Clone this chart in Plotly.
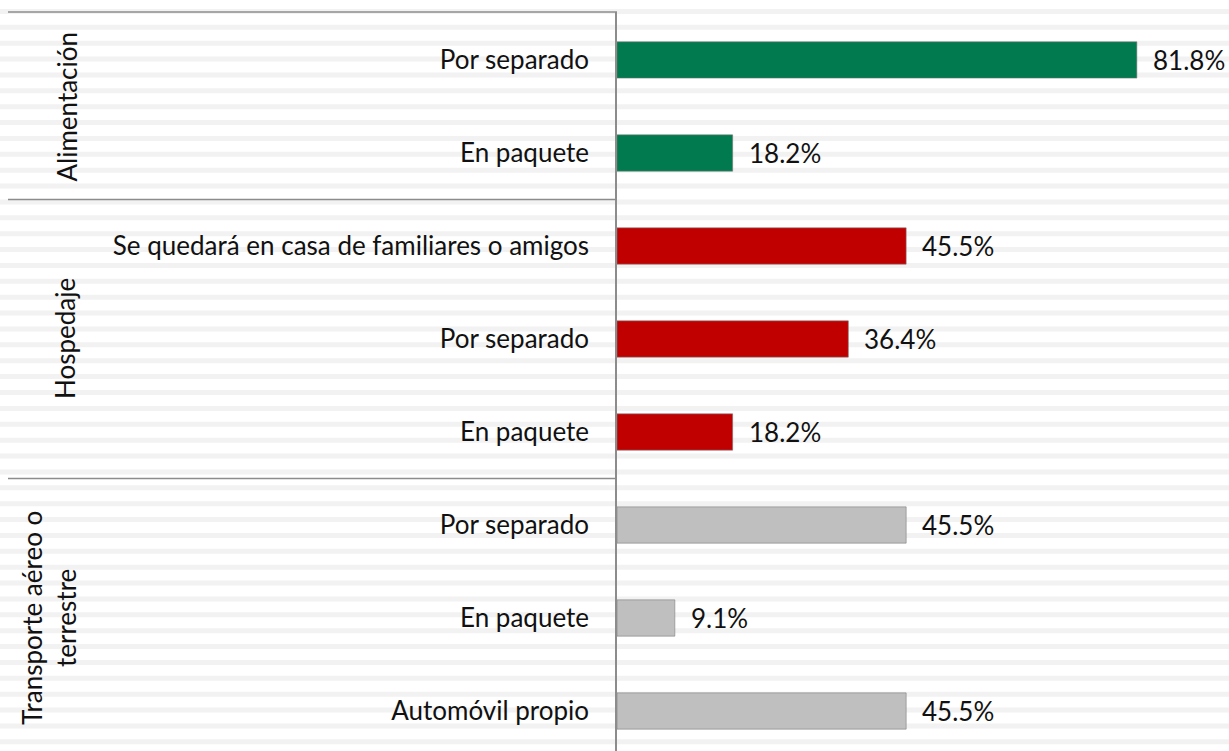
import plotly.graph_objects as go

# ---- data ----
groups = ["Alimentación", "Hospedaje", "Transporte aéreo o<br>terrestre"]
group_sizes = [2, 3, 3]
categories = ["Por separado", "En paquete",
              "Se quedará en casa de familiares o amigos", "Por separado", "En paquete",
              "Por separado", "En paquete", "Automóvil propio"]
values = [81.8, 18.2, 45.5, 36.4, 18.2, 45.5, 9.1, 45.5]
group_colors = ["#007A4E", "#C00000", "#BFBFBF"]
value_labels = [f"{v:.1f}%" for v in values]

W, H = 1229, 751
ML, MT = 617, 12
PW, PH = W - ML, H - MT

colors = []
for g, n in enumerate(group_sizes):
    colors += [group_colors[g]] * n
ypos = list(range(len(categories)))

FONT = "Lato"
FS = 26
TXT = "#111111"

fig = go.Figure()
fig.add_trace(go.Bar(
    x=values, y=ypos, orientation="h", width=0.39,
    marker=dict(color=colors, line=dict(color="rgba(120,120,120,0.55)", width=1)),
    hoverinfo="skip",
))

def px_to_paper_x(px):
    return (px - ML) / PW

def px_to_paper_y(py):
    return (H - py) / PH

shapes = []
# striped background
k = 0
while True:
    y0 = 9 + 15.88 * k - 16
    if y0 > H + 5:
        break
    shapes.append(dict(type="rect", xref="paper", yref="paper",
                       x0=px_to_paper_x(-5), x1=px_to_paper_x(W + 5),
                       y0=px_to_paper_y(y0), y1=px_to_paper_y(y0 + 5),
                       fillcolor="#F2F2F2", line=dict(width=0), layer="below"))
    k += 1

line_style = dict(color="#8C8C8C", width=1.5)
# top frame line
shapes.append(dict(type="line", xref="paper", yref="paper",
                   x0=px_to_paper_x(8), x1=0, y0=1, y1=1, line=line_style))
# group separators
cum = 0
for n in group_sizes[:-1]:
    cum += n
    shapes.append(dict(type="line", xref="paper", yref="y",
                       x0=px_to_paper_x(8), x1=0, y0=cum - 0.5, y1=cum - 0.5,
                       line=line_style))

annotations = []
for i, lab in enumerate(value_labels):
    annotations.append(dict(x=values[i], y=ypos[i], xref="x", yref="y",
                            text=lab, showarrow=False, xanchor="left",
                            xshift=14, font=dict(family=FONT, size=FS, color=TXT)))
start = 0
gx = [67, 65, 49]
for g, n in enumerate(group_sizes):
    mid = start + (n - 1) / 2
    annotations.append(dict(x=px_to_paper_x(gx[g]), y=mid, xref="paper", yref="y",
                            text=groups[g], showarrow=False, textangle=-90,
                            xanchor="center", yanchor="middle",
                            font=dict(family=FONT, size=FS, color=TXT)))
    start += n

fig.update_layout(
    width=W, height=H,
    margin=dict(l=ML, r=0, t=MT, b=0, pad=0),
    paper_bgcolor="white", plot_bgcolor="rgba(0,0,0,0)",
    showlegend=False,
    shapes=shapes, annotations=annotations,
    xaxis=dict(range=[0, 96.3], visible=False, fixedrange=True),
    yaxis=dict(range=[7.43, -0.516], tickvals=ypos, ticktext=categories,
               showgrid=False, zeroline=False, showline=True,
               linecolor="#8C8C8C", linewidth=1.5,
               ticks="outside", ticklen=21, tickcolor="rgba(0,0,0,0)",
               tickfont=dict(family=FONT, size=FS, color=TXT), fixedrange=True),
)

fig.write_html("out.html", config={"displayModeBar": False},
               post_script="document.body.style.margin='0';document.body.style.overflow='hidden';")
